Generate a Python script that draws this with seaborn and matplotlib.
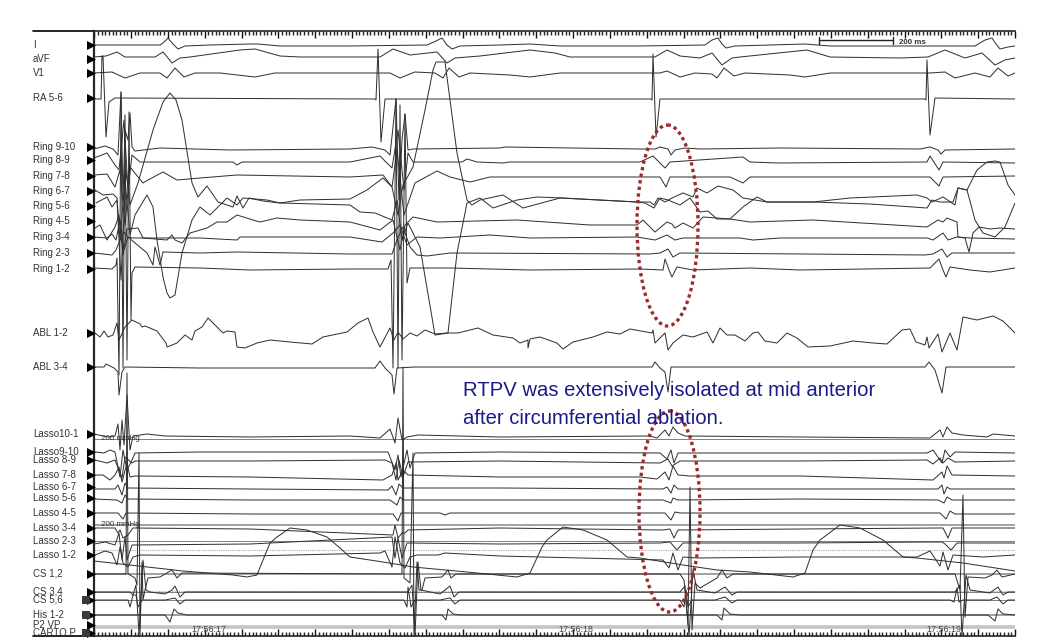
# coding=utf-8
"""
Intracardiac tracing: surface leads, ring, ablation, lasso and CS channels.
All trace values are read from the picture as (ms position, screen level) pairs.
"""
import numpy as np
import pandas as pd
import seaborn as sns
import matplotlib.pyplot as plt
from matplotlib.patches import Ellipse

channel_names = ['I', 'aVF', 'V1', 'RA 5-6', 'Ring 9-10', 'Ring 8-9', 'Ring 7-8', 'Ring 6-7', 'Ring 5-6',
                 'Ring 4-5', 'Ring 3-4', 'Ring 2-3', 'Ring 1-2', 'ABL 1-2', 'ABL 3-4', 'Lasso10-1',
                 'Lasso9-10', 'Lasso 8-9', 'Lasso 7-8', 'Lasso 6-7', 'Lasso 5-6', 'Lasso 4-5', 'Lasso 3-4',
                 'Lasso 2-3', 'Lasso 1-2', 'CS 1,2', 'CS 3,4', 'CS 5,6', 'His 1-2', 'P2 VP', 'CARTO P']
channel_levels = [45, 59, 73, 98, 147, 160, 176, 191, 206, 221, 237, 253, 269, 333, 367, 434,
                  452, 460, 475, 487, 498, 513, 528, 541, 555, 574, 592, 600, 615, 625, 633]
boxed_levels = [600, 615, 633]

lead_i = [(94, 45), (160, 45), (163, 43), (168, 38), (173, 44), (178, 49), (185, 46), (210, 45), (250, 44), (258, 44),
          (280, 46), (350, 46), (427, 45), (436, 41), (442, 38), (447, 45), (452, 49), (460, 46), (500, 45), (530, 44),
          (560, 46), (640, 46), (705, 45), (712, 40), (718, 38), (722, 44), (726, 48), (735, 46), (805, 44), (830, 46),
          (900, 46), (975, 46), (985, 40), (992, 38), (996, 44), (1000, 49), (1008, 47), (1015, 46)]
lead_avf = [(94, 57), (106, 56), (117, 52), (125, 57), (155, 57), (163, 52), (168, 58), (172, 63), (180, 58), (190, 57),
            (240, 50), (255, 49), (280, 56), (300, 57), (380, 57), (393, 49), (410, 55), (437, 52), (447, 63), (455, 58),
            (480, 56), (530, 50), (555, 53), (570, 57), (655, 57), (667, 50), (680, 56), (700, 58), (712, 53), (722, 65),
            (732, 58), (740, 57), (807, 50), (830, 57), (900, 58), (928, 57), (945, 50), (965, 58), (982, 53), (995, 65),
            (1005, 60), (1015, 58)]
lead_v1 = [(94, 73), (112, 72), (125, 78), (140, 73), (160, 73), (167, 78), (175, 68), (184, 77), (195, 73), (220, 73),
           (255, 77), (275, 73), (390, 73), (400, 78), (415, 72), (435, 73), (443, 78), (449, 68), (459, 77), (470, 73),
           (510, 75), (530, 77), (560, 73), (660, 73), (667, 71), (680, 77), (695, 73), (712, 74), (717, 78), (724, 68),
           (734, 76), (745, 73), (790, 75), (805, 77), (830, 73), (930, 73), (945, 72), (955, 78), (975, 73), (990, 77),
           (998, 68), (1008, 76), (1015, 73)]
ra_56 = [(94, 99), (101, 99), (102, 56), (103, 56), (106, 137), (109, 102), (115, 98), (375, 99), (376, 100), (378, 49),
         (381, 142), (385, 99), (651, 99), (652, 100), (653, 54), (656, 137), (660, 99), (925, 99), (926, 100), (927, 60),
         (930, 135), (935, 98), (1015, 99)]

ring_910 = [(94, 149), (105, 146), (113, 149), (118, 155), (121, 92), (123, 200), (125, 130), (128, 140), (130, 113),
            (132, 147), (135, 151), (160, 148), (230, 150), (350, 149), (372, 147), (385, 150), (390, 155), (396, 99),
            (399, 200), (402, 140), (405, 114), (408, 150), (413, 149), (500, 148), (505, 147), (640, 149), (655, 149),
            (660, 147), (668, 149), (671, 155), (675, 150), (685, 148), (700, 149), (780, 148), (920, 149), (930, 147),
            (938, 150), (941, 154), (945, 150), (1015, 149)]
ring_89 = [(94, 158), (107, 153), (115, 165), (119, 170), (124, 120), (128, 190), (132, 155), (140, 162), (233, 162),
           (237, 165), (242, 162), (350, 162), (380, 156), (392, 168), (398, 130), (404, 190), (408, 153), (413, 162),
           (462, 162), (467, 159), (477, 162), (503, 163), (510, 162), (640, 162), (653, 156), (665, 168), (670, 162),
           (743, 157), (750, 162), (778, 163), (927, 162), (930, 156), (939, 170), (943, 162), (1015, 163)]
ring_78 = [(94, 175), (107, 174), (115, 187), (120, 170), (125, 225), (130, 167), (143, 183), (148, 180), (163, 172),
           (177, 180), (200, 178), (237, 175), (350, 177), (383, 175), (392, 187), (397, 150), (404, 215), (415, 183),
           (437, 171), (450, 177), (470, 182), (490, 177), (640, 177), (660, 177), (666, 187), (670, 177), (730, 177),
           (743, 183), (750, 177), (800, 177), (930, 177), (939, 186), (943, 177), (1015, 176)]
ring_67 = [(95, 190), (103, 195), (113, 194), (117, 198), (120, 240), (125, 180), (130, 235), (135, 215), (147, 195),
           (153, 207), (157, 240), (163, 277), (167, 293), (170, 298), (175, 295), (182, 253), (192, 220), (200, 207),
           (210, 215), (227, 198), (237, 205), (243, 198), (267, 200), (280, 203), (350, 205), (360, 212), (375, 213),
           (392, 220), (397, 200), (402, 240), (408, 223), (420, 247), (435, 335), (448, 333), (457, 253), (467, 203),
           (480, 198), (493, 208), (517, 200), (537, 197), (563, 198), (600, 200), (637, 202), (650, 202), (654, 205),
           (658, 198), (665, 202), (672, 198), (683, 193), (693, 197), (697, 188), (707, 193), (718, 186), (733, 190),
           (743, 198), (767, 202), (813, 202), (850, 198), (917, 195), (927, 198), (932, 202), (943, 197), (955, 205),
           (958, 188), (967, 190), (977, 170), (987, 162), (995, 161), (1000, 162), (1008, 185), (1015, 195)]
ring_56 = [(96, 203), (107, 197), (112, 207), (117, 200), (121, 280), (126, 170), (130, 205), (138, 183), (153, 130),
           (163, 102), (170, 93), (176, 100), (182, 120), (192, 183), (198, 197), (207, 186), (218, 202), (233, 207),
           (237, 196), (243, 208), (249, 198), (263, 201), (280, 203), (300, 200), (350, 199), (367, 190), (383, 178),
           (392, 187), (398, 215), (403, 185), (413, 167), (425, 110), (433, 70), (436, 62), (445, 62), (450, 100),
           (457, 153), (467, 200), (472, 205), (480, 200), (503, 195), (523, 208), (560, 198), (637, 202), (645, 203),
           (654, 208), (660, 198), (668, 200), (680, 205), (690, 198), (700, 212), (708, 211), (717, 219), (730, 219),
           (743, 207), (757, 197), (767, 202), (813, 202), (870, 204), (927, 208), (932, 200), (940, 202), (953, 202),
           (958, 188), (967, 190), (975, 220), (983, 233), (995, 237), (1005, 227), (1015, 203)]
ring_45 = [(95, 228), (100, 225), (107, 240), (115, 227), (119, 215), (123, 255), (127, 229), (138, 228), (143, 238),
           (167, 240), (172, 235), (175, 240), (182, 243), (190, 233), (207, 228), (217, 222), (227, 222), (237, 215),
           (253, 220), (260, 222), (277, 218), (300, 220), (350, 222), (380, 230), (393, 220), (400, 250), (405, 225),
           (413, 217), (437, 222), (517, 220), (590, 225), (637, 225), (643, 220), (655, 232), (667, 222), (672, 224),
           (675, 228), (683, 223), (693, 228), (703, 217), (730, 219), (750, 222), (813, 220), (927, 227), (938, 220),
           (943, 222), (947, 218), (957, 222), (958, 237), (965, 238), (969, 252), (973, 233), (979, 227), (990, 229),
           (1000, 228), (1015, 229)]
ring_34 = [(94, 237), (107, 238), (112, 234), (116, 240), (120, 220), (124, 250), (128, 237), (133, 238), (200, 238),
           (237, 240), (240, 237), (350, 237), (382, 242), (393, 233), (400, 225), (407, 245), (417, 237), (440, 238),
           (490, 235), (530, 238), (637, 237), (655, 240), (667, 235), (675, 240), (683, 238), (740, 238), (753, 240),
           (780, 238), (927, 238), (933, 240), (943, 233), (948, 240), (957, 237), (970, 238), (1015, 239)]
ring_23 = [(94, 253), (112, 255), (116, 250), (120, 240), (124, 232), (128, 237), (147, 253), (153, 265), (155, 247),
           (160, 265), (163, 252), (200, 253), (237, 252), (350, 254), (392, 254), (397, 240), (403, 227), (410, 247),
           (417, 255), (427, 256), (450, 253), (650, 254), (660, 253), (668, 249), (673, 257), (680, 253), (925, 255),
           (933, 254), (942, 249), (947, 257), (952, 253), (1015, 253)]
ring_12 = [(94, 268), (112, 269), (116, 265), (117, 258), (119, 375), (121, 92), (123, 368), (125, 115), (127, 360),
           (129, 112), (131, 320), (132, 273), (135, 267), (200, 268), (250, 270), (350, 269), (388, 269), (391, 260),
           (393, 368), (396, 99), (398, 368), (400, 105), (402, 360), (405, 114), (407, 283), (410, 268), (450, 268),
           (530, 270), (640, 269), (663, 270), (665, 259), (669, 270), (672, 277), (677, 267), (693, 270), (750, 268),
           (800, 270), (930, 268), (939, 259), (943, 270), (946, 277), (950, 267), (970, 270), (990, 272), (1015, 268)]

abl_12 = [(95, 333), (100, 337), (104, 331), (108, 337), (113, 335), (117, 323), (119, 340), (125, 327), (132, 320),
          (140, 324), (142, 327), (145, 326), (157, 331), (166, 343), (167, 347), (177, 343), (185, 335), (192, 340),
          (195, 331), (202, 327), (208, 318), (215, 325), (223, 333), (227, 331), (235, 332), (237, 347), (245, 348),
          (257, 343), (270, 340), (290, 342), (312, 344), (323, 337), (347, 332), (358, 323), (368, 318), (373, 332),
          (380, 347), (390, 328), (394, 340), (398, 332), (403, 339), (410, 333), (417, 336), (425, 330), (435, 334),
          (447, 333), (458, 333), (478, 328), (493, 335), (513, 338), (520, 343), (528, 340), (528, 348), (530, 339),
          (540, 337), (557, 343), (563, 349), (573, 342), (593, 337), (607, 332), (620, 334), (630, 329), (652, 333),
          (653, 330), (655, 343), (665, 333), (668, 350), (673, 343), (683, 335), (693, 337), (707, 332), (713, 343),
          (720, 328), (727, 335), (735, 335), (745, 341), (753, 333), (758, 332), (765, 341), (777, 343), (787, 333),
          (797, 338), (808, 347), (830, 346), (853, 341), (873, 343), (887, 344), (902, 330), (910, 329), (916, 342),
          (925, 345), (927, 337), (929, 348), (938, 334), (942, 352), (950, 333), (957, 350), (963, 317), (977, 320),
          (993, 316), (1003, 321), (1015, 333)]
abl_34 = [(95, 367), (104, 367), (106, 364), (114, 368), (118, 372), (119, 395), (122, 372), (125, 367), (200, 368),
          (375, 368), (380, 361), (385, 368), (392, 375), (394, 394), (397, 368), (415, 367), (652, 367), (655, 362),
          (660, 368), (665, 372), (668, 392), (671, 367), (925, 367), (929, 362), (935, 370), (942, 393), (946, 367),
          (1015, 367)]

lasso_101 = [(94, 434), (108, 437), (115, 436), (118, 424), (120, 450), (122, 420), (124, 445), (127, 395), (130, 450),
             (133, 436), (147, 434), (165, 436), (250, 437), (350, 436), (380, 438), (390, 429), (395, 443), (398, 418),
             (402, 440), (407, 437), (418, 435), (500, 437), (650, 436), (657, 438), (665, 430), (669, 436), (673, 427),
             (678, 433), (685, 436), (800, 437), (930, 438), (940, 430), (943, 437), (947, 427), (952, 433), (963, 435),
             (987, 437), (993, 434), (1015, 436)]
lasso_910 = [(95, 452), (104, 453), (110, 450), (115, 452), (120, 477), (123, 450), (127, 470), (132, 460), (135, 453),
             (200, 452), (300, 452), (388, 452), (395, 470), (398, 455), (401, 477), (407, 450), (410, 468), (415, 453),
             (500, 452), (660, 453), (667, 459), (671, 450), (674, 463), (678, 453), (800, 453), (927, 453), (933, 450),
             (942, 463), (945, 450), (950, 457), (955, 452), (1015, 453)]
lasso_89 = [(95, 460), (107, 463), (115, 460), (122, 478), (125, 457), (132, 463), (135, 461), (250, 461), (385, 460),
            (392, 463), (396, 480), (399, 460), (403, 477), (408, 462), (500, 461), (660, 463), (668, 459), (672, 466),
            (680, 461), (800, 461), (927, 460), (933, 464), (940, 458), (943, 463), (948, 458), (955, 462), (1015, 461)]
lasso_78 = [(95, 475), (103, 475), (110, 480), (115, 475), (119, 467), (122, 482), (127, 463), (130, 477), (135, 476),
            (250, 477), (383, 480), (392, 475), (396, 463), (398, 480), (403, 470), (408, 475), (500, 477), (640, 477),
            (657, 479), (665, 472), (669, 480), (673, 466), (678, 475), (690, 476), (800, 476), (933, 480), (942, 472),
            (944, 478), (947, 466), (952, 475), (1015, 476)]
lasso_67 = [(94, 489), (115, 489), (118, 485), (122, 495), (125, 483), (128, 488), (250, 489), (388, 490), (392, 486),
            (396, 495), (399, 484), (403, 488), (500, 488), (663, 489), (667, 487), (671, 493), (674, 485), (678, 489),
            (800, 489), (938, 489), (942, 485), (944, 494), (947, 487), (950, 489), (1015, 489)]
lasso_56 = [(94, 499), (117, 500), (122, 503), (125, 495), (128, 499), (250, 500), (390, 500), (397, 505), (400, 497),
            (403, 500), (500, 500), (663, 500), (671, 503), (673, 498), (678, 500), (800, 499), (938, 500), (944, 503),
            (947, 497), (952, 500), (1015, 500)]
lasso_45 = [(94, 513), (118, 513), (123, 519), (126, 513), (250, 514), (393, 514), (398, 521), (401, 513), (440, 513),
            (445, 515), (450, 513), (665, 513), (671, 520), (675, 512), (680, 513), (800, 513), (940, 513), (946, 519),
            (950, 511), (955, 514), (1015, 514)]
lasso_34 = [(94, 528), (115, 528), (118, 533), (120, 530), (123, 538), (128, 535), (133, 528), (250, 529), (393, 535),
            (395, 525), (398, 538), (402, 533), (405, 533), (408, 530), (500, 528), (663, 530), (670, 529), (674, 538),
            (678, 530), (800, 529), (938, 528), (943, 528), (948, 538), (952, 528), (1015, 528)]
lasso_23 = [(94, 544), (105, 542), (115, 545), (119, 533), (122, 560), (125, 537), (127, 560), (132, 545), (250, 544),
            (392, 537), (395, 558), (398, 538), (402, 558), (407, 543), (500, 544), (660, 543), (670, 542), (677, 550),
            (683, 543), (800, 543), (927, 542), (942, 542), (945, 544), (951, 550), (957, 543), (1015, 543)]
lasso_12 = [(95, 555), (100, 553), (105, 551), (112, 553), (117, 565), (120, 547), (123, 563), (128, 567), (133, 557),
            (140, 555), (250, 556), (380, 553), (385, 551), (392, 567), (395, 537), (400, 563), (405, 568), (410, 557),
            (417, 555), (438, 555), (445, 553), (500, 556), (663, 560), (669, 568), (673, 553), (678, 570), (683, 557),
            (697, 558), (800, 557), (917, 557), (930, 551), (940, 566), (943, 552), (948, 570), (953, 555), (983, 557),
            (1015, 555)]

pressure = [(94, 561), (183, 571), (233, 575), (247, 577), (257, 575), (263, 560), (270, 543), (277, 537), (290, 528),
            (307, 530), (327, 537), (340, 548), (350, 557), (383, 562), (413, 567), (467, 572), (517, 577), (530, 573),
            (542, 547), (547, 540), (563, 527), (583, 530), (607, 540), (627, 557), (640, 558), (683, 565), (717, 570),
            (750, 572), (793, 577), (805, 573), (813, 550), (820, 540), (840, 525), (860, 528), (883, 540), (903, 557),
            (917, 558), (963, 563), (1015, 571)]

cs_12 = [(94, 574), (126, 574), (127, 373), (128, 574), (130, 575), (135, 578), (137, 585), (139, 453), (140, 636),
         (142, 562), (143, 600), (145, 590), (148, 578), (160, 577), (172, 570), (177, 578), (182, 573), (402, 574),
         (403, 367), (404, 578), (410, 583), (413, 453), (414, 636), (417, 562), (419, 590), (422, 590), (425, 578),
         (442, 577), (448, 570), (451, 578), (456, 574), (680, 574), (684, 580), (688, 625), (690, 487), (692, 630),
         (695, 583), (700, 588), (717, 578), (722, 570), (727, 578), (733, 574), (955, 574), (960, 590), (963, 495),
         (965, 617), (968, 577), (985, 578), (992, 575), (997, 570), (1002, 577), (1015, 574)]
cs_34 = [(94, 592), (130, 592), (133, 595), (136, 585), (139, 634), (143, 560), (146, 590), (150, 592), (165, 594),
         (172, 590), (175, 586), (180, 597), (185, 592), (408, 592), (412, 585), (415, 636), (418, 562), (421, 590),
         (440, 594), (450, 586), (454, 597), (459, 592), (680, 592), (685, 586), (689, 636), (693, 570), (697, 590),
         (715, 593), (725, 587), (732, 595), (737, 592), (955, 592), (960, 585), (962, 636), (966, 575), (970, 590),
         (990, 593), (998, 587), (1003, 595), (1008, 592), (1015, 592)]
cs_56 = [(94, 600), (128, 600), (130, 607), (133, 595), (136, 595), (138, 607), (142, 600), (165, 600), (175, 598),
         (180, 604), (185, 600), (404, 600), (407, 607), (408, 587), (411, 607), (415, 600), (440, 600), (450, 598),
         (455, 604), (460, 600), (680, 600), (684, 607), (686, 590), (688, 607), (692, 600), (715, 600), (725, 597),
         (732, 603), (737, 600), (950, 600), (954, 602), (957, 588), (959, 602), (963, 600), (990, 600), (997, 597),
         (1003, 604), (1008, 600), (1015, 600)]
his_12 = [(94, 615), (165, 615), (170, 622), (174, 609), (178, 613), (187, 615), (442, 615), (446, 620), (448, 609),
          (453, 614), (460, 615), (717, 615), (722, 620), (724, 608), (730, 614), (740, 615), (988, 615), (995, 621),
          (998, 609), (1003, 614), (1015, 615)]

# reference levels the recorder draws behind the channels
grey_levels = [439, 541, 592, 600]
band_levels = [525, 574, 615]
dotted_levels = [550, 591]
pale_level = 627

# time grid, one major tick every 100 ms and one minor every 10 ms
major_ticks = np.linspace(94.2, 1015.0, 26)
minor_ticks = np.linspace(94.2, 1015.0, 251)
time_labels = ['17:56:17', '17:56:18', '17:56:19']
time_positions = [209, 576, 944]

traces = [lead_i, lead_avf, lead_v1, ra_56, ring_910, ring_89, ring_78, ring_67, ring_56, ring_45, ring_34, ring_23,
          ring_12, abl_12, abl_34, lasso_101, lasso_910, lasso_89, lasso_78, lasso_67, lasso_56, lasso_45, lasso_34,
          lasso_23, lasso_12, pressure, cs_12, cs_34, cs_56, his_12]

sns.set_style('white')
plt.rcParams['font.family'] = ['Liberation Sans', 'DejaVu Sans']

fig = plt.figure(figsize=(10.58, 6.43), dpi=100)
ax = fig.add_axes([94 / 1058, 1 - 636 / 643, (1015 - 94) / 1058, (636 - 31) / 643])
ax.set_xlim(94, 1015)
ax.set_ylim(636, 31)

ax.hlines(grey_levels, 94, 1015, color='#808080', lw=0.7, zorder=1)
ax.hlines(band_levels, 94, 1015, color='#9a9a9a', lw=1.3, zorder=1)
ax.hlines(dotted_levels, 94, 1015, color='#a8a8a8', lw=0.8, linestyles=(0, (1, 1)), zorder=1)
ax.hlines(pale_level, 94, 1015, color='#c4c4c4', lw=2.6, zorder=1)

for trace in traces:
    df = pd.DataFrame(trace, columns=['x', 'y'])
    sns.lineplot(data=df, x='x', y='y', sort=False, estimator=None, color='#303030', lw=0.72, ax=ax, zorder=3,
                 solid_joinstyle='round')

# channel names and the little arrow markers on the left
for name, level in zip(channel_names, channel_levels):
    ax.text(33, level, name, fontsize=7, color='#333333', ha='left', va='center', clip_on=False)
sns.scatterplot(x=[90.5] * len(channel_levels), y=channel_levels, marker='>', s=42, color='black', linewidth=0,
                clip_on=False, ax=ax, zorder=5)
sns.scatterplot(x=[85.5] * len(boxed_levels), y=boxed_levels, marker='s', s=26, color='#3a3a3a', linewidth=0,
                clip_on=False, ax=ax, zorder=5)

# frame
ax.spines['right'].set_visible(False)
ax.spines['left'].set_linewidth(1.6)
ax.spines['top'].set_linewidth(1.2)
ax.spines['bottom'].set_linewidth(1.2)
ax.plot([33, 94], [31, 31], color='black', lw=1.2, clip_on=False)
ax.plot([33, 94], [636, 636], color='black', lw=1.2, clip_on=False)
ax.set_xlabel('')
ax.set_ylabel('')
ax.set_yticks([])
ax.set_xticks(major_ticks)
ax.set_xticks(minor_ticks, minor=True)
ax.set_xticklabels([])
ax.tick_params(axis='x', which='major', direction='in', top=True, bottom=True, length=5, width=1, color='#111111')
ax.tick_params(axis='x', which='minor', direction='in', top=True, bottom=True, length=2.6, width=1, color='#222222')

# scale bar
ax.plot([819, 893], [40, 40], color='#222222', lw=1)
ax.plot([819, 819], [37, 44], color='#222222', lw=1)
ax.plot([893, 893], [37, 44], color='#222222', lw=1)
ax.text(899, 42, '200 ms', fontsize=5.7, fontweight='bold', color='#333333', ha='left', va='center')

ax.text(101, 439, '200 mmHg', fontsize=5.8, color='#333333', ha='left', va='center', zorder=4)
ax.text(101, 525, '200 mmHg', fontsize=5.8, color='#333333', ha='left', va='center', zorder=4)

for label, pos in zip(time_labels, time_positions):
    ax.text(pos, 630, label, fontsize=6.4, color='#444444', ha='center', va='center', zorder=4)

# dotted rings around the far-field signals
ax.add_patch(Ellipse((667.5, 225.5), 61, 201, fill=False, edgecolor='#9c2b2e', lw=2.4, linestyle=(0, (1, 1)), zorder=6))
ax.add_patch(Ellipse((669.5, 511.5), 61, 201, fill=False, edgecolor='#9c2b2e', lw=2.4, linestyle=(0, (1, 1)), zorder=6))

ax.text(463, 391, 'RTPV was extensively isolated at mid anterior', fontsize=14.6, color='#1a1a8a', ha='left',
        va='center', zorder=7)
ax.text(463, 419, 'after circumferential ablation.', fontsize=14.6, color='#1a1a8a', ha='left', va='center', zorder=7)

fig.savefig('out.png', dpi=100)
